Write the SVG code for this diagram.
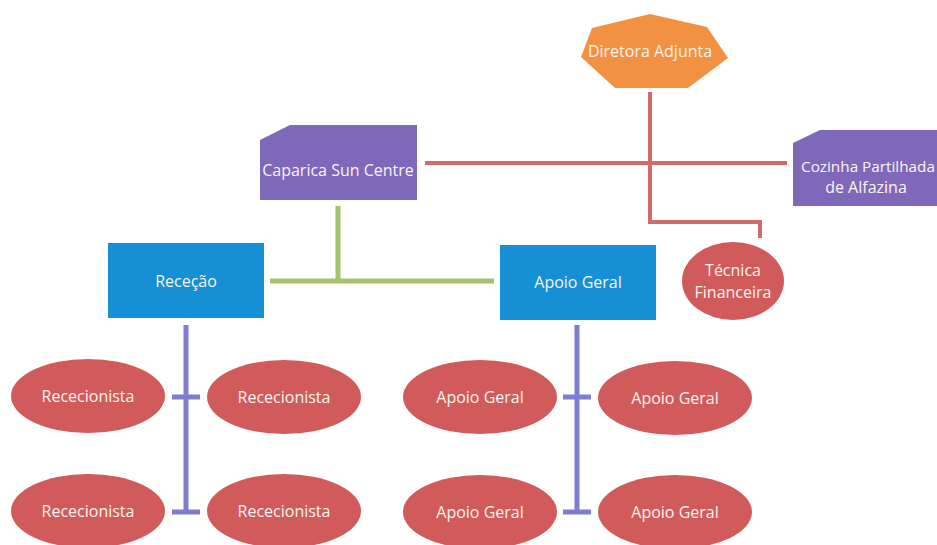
<svg xmlns="http://www.w3.org/2000/svg" width="937" height="545" viewBox="0 0 937 545">
<style>
text{font-family:"Open Sans","Liberation Sans",sans-serif;font-size:16px;fill:#FBF3F0;text-anchor:middle;dominant-baseline:central}
.ell{fill:#D15B5B}
.pur{fill:#7F68BA}
.blue{fill:#1590D5}
.red{stroke:#D26A6A;stroke-width:4;fill:none}
.grn{stroke:#A5C36C;stroke-width:5;fill:none}
.vio{stroke:#7F7DD0;stroke-width:5;fill:none}
</style>
<rect width="937" height="545" fill="#FFFFFF"/>
<g id="connectors">
<path class="red" d="M650 92 V222 H760 V238"/>
<path class="red" d="M425 163 H787"/>
<path class="grn" d="M338 206 V281 M270 281 H494"/>
<path class="vio" d="M186 325 V512 M172 397 H200 M172 512 H200"/>
<path class="vio" d="M577 325 V512 M563 397 H591 M563 512 H591"/>
</g>
<g id="diretora">
<polygon points="650,14 707,27 728,58 688,88 615,88 581,57 592,28" fill="#F39143"/>
<text x="650" y="51">Diretora Adjunta</text>
</g>
<g id="caparica">
<polygon class="pur" points="290,125 417,125 417,200 260,200 260,140"/>
<text x="338" y="170">Caparica Sun Centre</text>
</g>
<g id="cozinha">
<polygon class="pur" points="820,130 945,130 945,206 793,206 793,143"/>
<text x="868" y="166" style="font-size:15.3px">Cozinha Partilhada</text>
<text x="866" y="187">de Alfazina</text>
</g>
<g id="rececao">
<rect class="blue" x="108" y="243" width="156" height="75"/>
<text x="186" y="281">Receção</text>
</g>
<g id="apoio">
<rect class="blue" x="500" y="245" width="156" height="75"/>
<text x="578" y="282">Apoio Geral</text>
</g>
<g id="tecnica">
<ellipse class="ell" cx="733" cy="281" rx="51" ry="39"/>
<text x="733" y="270">Técnica</text>
<text x="733" y="292">Financeira</text>
</g>
<g id="rec1"><ellipse class="ell" cx="88" cy="396" rx="77" ry="37"/><text x="88" y="396">Rececionista</text></g>
<g id="rec2"><ellipse class="ell" cx="284" cy="397" rx="77" ry="37"/><text x="284" y="397">Rececionista</text></g>
<g id="rec3"><ellipse class="ell" cx="88" cy="511" rx="77" ry="37"/><text x="88" y="511">Rececionista</text></g>
<g id="rec4"><ellipse class="ell" cx="284" cy="511" rx="77" ry="37"/><text x="284" y="511">Rececionista</text></g>
<g id="ap1"><ellipse class="ell" cx="480" cy="397" rx="77" ry="37"/><text x="480" y="397">Apoio Geral</text></g>
<g id="ap2"><ellipse class="ell" cx="675" cy="398" rx="77" ry="37"/><text x="675" y="398">Apoio Geral</text></g>
<g id="ap3"><ellipse class="ell" cx="480" cy="512" rx="77" ry="37"/><text x="480" y="512">Apoio Geral</text></g>
<g id="ap4"><ellipse class="ell" cx="675" cy="512" rx="77" ry="37"/><text x="675" y="512">Apoio Geral</text></g>
</svg>
